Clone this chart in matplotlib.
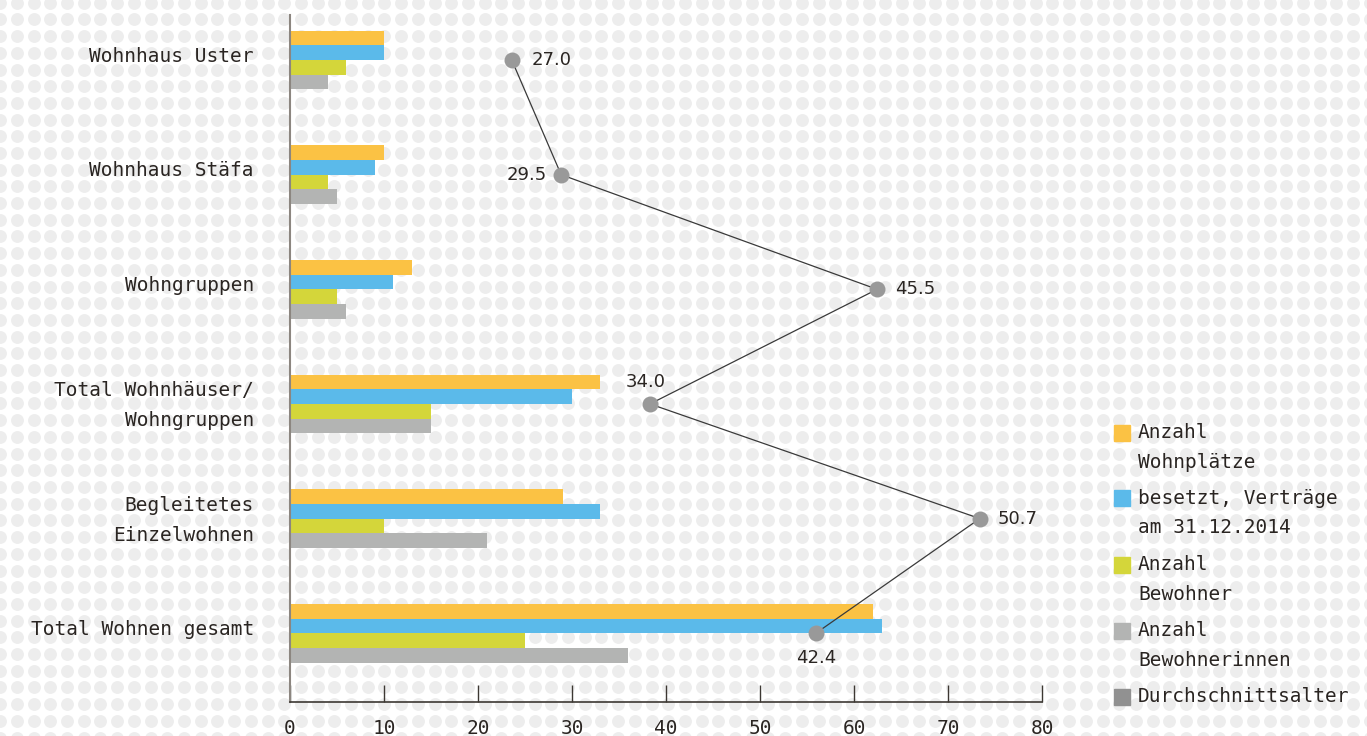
import matplotlib.pyplot as plt
import numpy as np
from matplotlib.patches import Rectangle

# data
categories = ['Wohnhaus Uster', 'Wohnhaus Stäfa', 'Wohngruppen',
              'Total Wohnhäuser/\nWohngruppen', 'Begleitetes\nEinzelwohnen',
              'Total Wohnen gesamt']
wohnplaetze = [10, 10, 13, 33, 29, 62]
besetzt = [10, 9, 11, 30, 33, 63]
bewohner = [6, 4, 5, 15, 10, 25]
bewohnerinnen = [4, 5, 6, 15, 21, 36]
alter = [27.0, 29.5, 45.5, 34.0, 50.7, 42.4]

series_labels = ['Anzahl\nWohnplätze', 'besetzt, Verträge\nam 31.12.2014',
                 'Anzahl\nBewohner', 'Anzahl\nBewohnerinnen', 'Durchschnittsalter']
colors = ['#fbc244', '#5bbaea', '#d4d63a', '#b3b4b3', '#919191']
txt = '#2a2522'
mono = 'DejaVu Sans Mono'

W, H = 1367, 736
fig = plt.figure(figsize=(W / 100, H / 100), dpi=100)

# dotted background
bg = fig.add_axes([0, 0, 1, 1], zorder=0)
bg.set_xlim(0, W)
bg.set_ylim(H, 0)
bg.axis('off')
gx, gy = np.meshgrid(np.arange(0.3, W + 17, 16.7), np.arange(2.7, H + 17, 16.7))
bg.scatter(gx.ravel(), gy.ravel(), s=86, color='#ededed', linewidths=0)

ax = fig.add_axes([290 / W, 1 - 702 / H, (1042 - 290) / W, (702 - 15) / H], zorder=1)
ax.patch.set_alpha(0)

y = np.arange(len(categories))
h = 0.128
for k, vals in enumerate([wohnplaetze, besetzt, bewohner, bewohnerinnen]):
    ax.barh(y + (k - 1.5) * h, vals, height=h, color=colors[k], linewidth=0)

ax.set_xlim(0, 80)
ax.set_ylim(5.60, -0.393)
ax.set_xticks(range(0, 81, 10))
# labels sit a little above the group centre
ax.set_yticks(y - 0.05)
ax.set_yticklabels(categories, fontfamily=mono, fontsize=14, color=txt,
                   linespacing=1.72, ha='right')
ax.tick_params(axis='y', length=0, pad=26)
ax.tick_params(axis='x', direction='in', length=12, width=1, color='#3d3833',
               pad=12, labelsize=14, labelcolor=txt)
for lab in ax.get_xticklabels():
    lab.set_fontfamily(mono)
for s in ['top', 'right']:
    ax.spines[s].set_visible(False)
ax.spines['left'].set_color('#8c8680')
ax.spines['left'].set_linewidth(1.5)
ax.spines['bottom'].set_color('#3d3833')
ax.spines['bottom'].set_linewidth(1.2)

# average age on a hidden secondary scale
ax2 = ax.twiny()
ax2.set_zorder(2)
ax2.patch.set_alpha(0)
ax2.set_xlim(15.77, 53.85)
ax2.axis('off')
ax2.plot(alter, y, color='#3a3a3a', linewidth=0.9, marker='o', markersize=11.5,
         markerfacecolor='#999999', markeredgewidth=0)
offsets = [(14, 0, 'left', 'center'), (-10, 0, 'right', 'center'),
           (13, 0, 'left', 'center'), (-3, 16, 'center', 'center'),
           (13, 0, 'left', 'center'), (0, -18, 'center', 'center')]
for v, yy, (dx, dy, ha, va) in zip(alter, y, offsets):
    ax2.annotate(f'{v:.1f}', (v, yy), xytext=(dx, dy), textcoords='offset points',
                 ha=ha, va=va, fontsize=13, color=txt)

# legend
leg_y = [433, 498, 565, 631, 697]
for c, lab, ly in zip(colors, series_labels, leg_y):
    fig.patches.append(Rectangle((1114 / W, 1 - (ly + 8) / H), 16 / W, 16 / H,
                                 transform=fig.transFigure, color=c, zorder=3))
    for j, line in enumerate(lab.split('\n')):
        fig.text(1138 / W, 1 - (ly + 29.5 * j) / H, line, fontfamily=mono,
                 fontsize=14, color=txt, va='center', ha='left')

fig.savefig('out.png', dpi=100)
